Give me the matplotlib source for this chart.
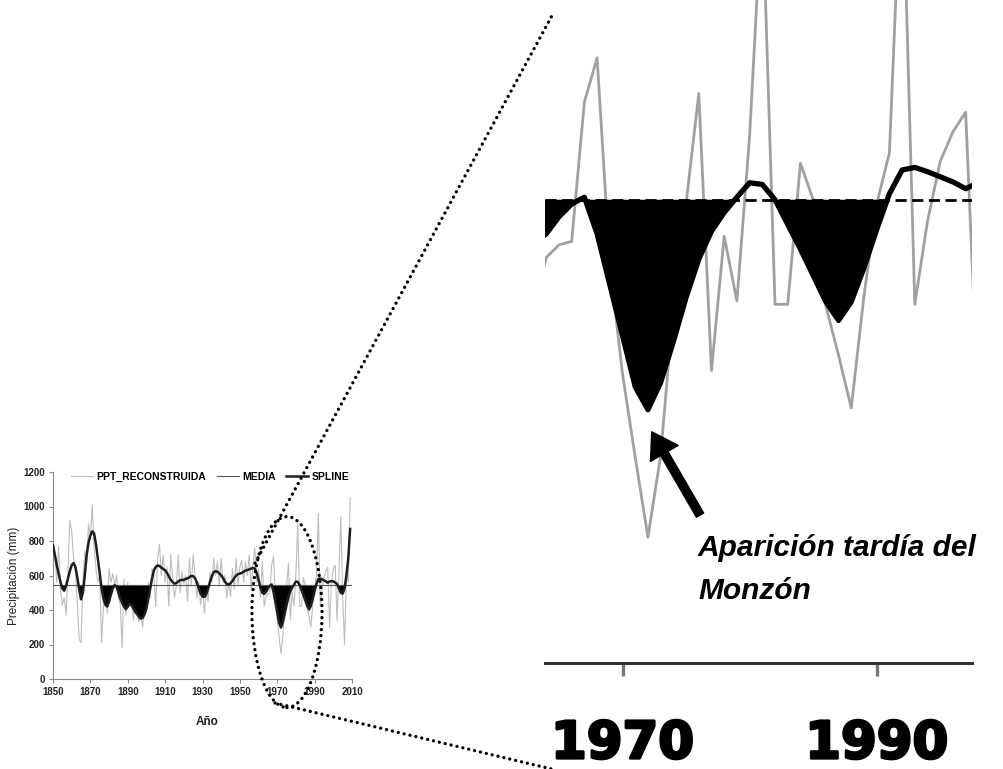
import numpy as np
import matplotlib
matplotlib.use("Agg")
import matplotlib.pyplot as plt
import matplotlib.patheffects as pe
from matplotlib.lines import Line2D
from matplotlib.patches import ConnectionPatch, Ellipse

plt.rcParams['font.family'] = ['Liberation Sans', 'DejaVu Sans']

# annual reconstructed precipitation (mm), 1850-2009
years = np.arange(1850, 2010)
ppt = [800, 720, 560, 770, 520, 430, 470, 370, 620, 920,
       860, 700, 620, 450, 230, 210, 560, 740, 680, 900,
       820, 1010, 760, 640, 560, 600, 210, 420, 540, 380,
       640, 560, 610, 540, 600, 470, 430, 180, 580, 370,
       560, 420, 480, 340, 460, 400, 330, 380, 300, 410,
       420, 560, 470, 640, 600, 420, 700, 780, 600, 720,
       560, 650, 420, 720, 590, 470, 540, 720, 500, 620,
       550, 600, 450, 700, 540, 720, 600, 470, 560, 430,
       520, 380, 500, 450, 620, 560, 700, 600, 680, 540,
       700, 560, 600, 470, 560, 480, 640, 520, 700, 550,
       650, 690, 560, 680, 600, 720, 520, 660, 760, 560,
       640, 470, 680, 420, 477, 492, 496, 660, 712, 470,
       340, 242, 148, 244, 420, 540, 670, 344, 502, 426,
       620, 900, 422, 422, 588, 545, 420, 362, 300, 432,
       540, 600, 960, 422, 520, 590, 625, 648, 300, 560,
       640, 660, 340, 620, 940, 480, 200, 610, 560, 1050]

# smoothing spline
spline = [775, 720, 660, 610, 563, 525, 512, 540, 583, 625,
          660, 672, 650, 590, 520, 462, 500, 600, 718, 790,
          833, 856, 843, 780, 698, 610, 525, 465, 430, 420,
          448, 490, 525, 544, 535, 500, 467, 440, 419, 405,
          419, 436, 428, 410, 390, 375, 361, 350, 355, 375,
          409, 465, 525, 583, 630, 650, 658, 655, 645, 638,
          630, 615, 595, 575, 562, 553, 556, 565, 573, 574,
          575, 580, 583, 590, 598, 596, 585, 560, 525, 495,
          478, 476, 490, 525, 563, 595, 620, 625, 622, 612,
          600, 585, 565, 550, 548, 555, 568, 585, 600, 608,
          611, 615, 622, 628, 632, 635, 640, 644, 640, 615,
          575, 530, 500, 493, 505, 525, 540, 548, 505, 445,
          385, 325, 298, 330, 378, 430, 475, 508, 530, 548,
          565, 563, 545, 516, 487, 456, 425, 403, 425, 465,
          510, 552, 580, 583, 578, 572, 566, 558, 565, 568,
          565, 560, 550, 525, 500, 495, 525, 600, 700, 870]

media = 545
ppt = np.array(ppt)
spline = np.array(spline)

W, H = 1004, 769
fig = plt.figure(figsize=(W / 100, H / 100), dpi=100)

# ---------------- small full chart ----------------
ax1 = fig.add_axes([53 / W, 1 - 679 / H, 299 / W, 207 / H])
ax1.plot(years, ppt, color='#bdbdbd', lw=0.8, zorder=1)
ax1.fill_between(years, spline, media, where=spline < media, interpolate=True,
                 color='black', lw=0, zorder=2)
ax1.axhline(media, color='#555555', lw=0.8, zorder=3)
ax1.plot(years, spline, color='#1e1e1e', lw=1.8, zorder=4)
ax1.set_xlim(1850, 2010)
ax1.set_ylim(0, 1200)
ax1.set_xticks(np.arange(1850, 2011, 20))
ax1.set_yticks(np.arange(0, 1201, 200))
for s in ['top', 'right']:
    ax1.spines[s].set_visible(False)
for s in ['left', 'bottom']:
    ax1.spines[s].set_color('#888888')
    ax1.spines[s].set_linewidth(0.8)
ax1.tick_params(length=3, width=0.8, color='#888888', labelsize=7, pad=3,
                labelcolor='#222222')
for lab in ax1.get_xticklabels() + ax1.get_yticklabels():
    lab.set_fontweight('bold')
ax1.set_ylabel('Precipitación (mm)', fontsize=8.5, color='#222222')
ax1.yaxis.set_label_coords(-0.112, 0.5)
ax1.set_xlabel('Año', fontsize=8.5, fontweight='bold', color='#222222')
ax1.xaxis.set_label_coords(0.515, -0.18)

handles = [Line2D([], [], color='#bdbdbd', lw=0.8),
           Line2D([], [], color='#555555', lw=0.8),
           Line2D([], [], color='#1e1e1e', lw=1.8)]
ax1.legend(handles, ['PPT_RECONSTRUIDA', 'MEDIA', 'SPLINE'], ncol=3,
           loc='center left', bbox_to_anchor=(0.06, 0.975), frameon=False,
           borderpad=0, borderaxespad=0, handlelength=2.1, handletextpad=0.35,
           columnspacing=1.0, prop={'size': 7.5, 'weight': 'bold'})

# ---------------- zoomed inset ----------------
ax2 = fig.add_axes([545 / W, 1 - 663 / H, 427 / W, 663 / H])
ax2.plot(years, ppt, color='#a0a0a0', lw=2.0, zorder=1)
ax2.fill_between(years, spline, media, where=spline < media, interpolate=True,
                 color='black', lw=0, zorder=2)
ax2.axhline(media, color='black', lw=2.0, ls=(0, (4, 2)), zorder=3)
ax2.plot(years, spline, color='black', lw=3.8, zorder=4)
ax2.set_xlim(1963.9, 1997.5)
ax2.set_ylim(0, 780)
ax2.set_yticks([])
ax2.set_xticks([1970, 1990])
for s in ['top', 'right', 'left']:
    ax2.spines[s].set_visible(False)
ax2.spines['bottom'].set_color('#333333')
ax2.spines['bottom'].set_linewidth(2.2)
ax2.tick_params(axis='x', length=9.5, width=2.4, color='#777777', pad=31)
for lab in ax2.get_xticklabels():
    lab.set_fontfamily('DejaVu Sans')
    lab.set_fontweight('bold')
    lab.set_fontsize(37)
    lab.set_path_effects([pe.withStroke(linewidth=2, foreground='black')])

ax2.annotate('', xy=(1972.3, 272), xytext=(1976.1, 174),
             arrowprops=dict(arrowstyle='simple,head_length=0.9,head_width=1.15,tail_width=0.3',
                             color='black', mutation_scale=20, shrinkA=0, shrinkB=0),
             zorder=6)
fig.text(698 / W, 1 - 534 / H, 'Aparición tardía del\nMonzón', fontsize=21.5,
         fontweight='bold', fontstyle='italic', va='top', ha='left',
         linespacing=1.7)

# ---------------- dotted zoom markers ----------------
dots = (0, (0.01, 1.8))
ell = Ellipse((1975.2, 388), width=37.5, height=1107, transform=ax1.transData,
              fill=False, ec='black', lw=2.4, ls=dots, capstyle='round',
              clip_on=False, zorder=10)
ax1.add_patch(ell)
for a, b in [((1958.1, 672), (1964.5, 763)), ((1968.8, -139), (1964.5, -125))]:
    con = ConnectionPatch(xyA=a, coordsA=ax1.transData, xyB=b, coordsB=ax2.transData,
                          color='black', lw=2.4, ls=dots, capstyle='round', zorder=10)
    fig.add_artist(con)

fig.savefig('out.png', dpi=100)
